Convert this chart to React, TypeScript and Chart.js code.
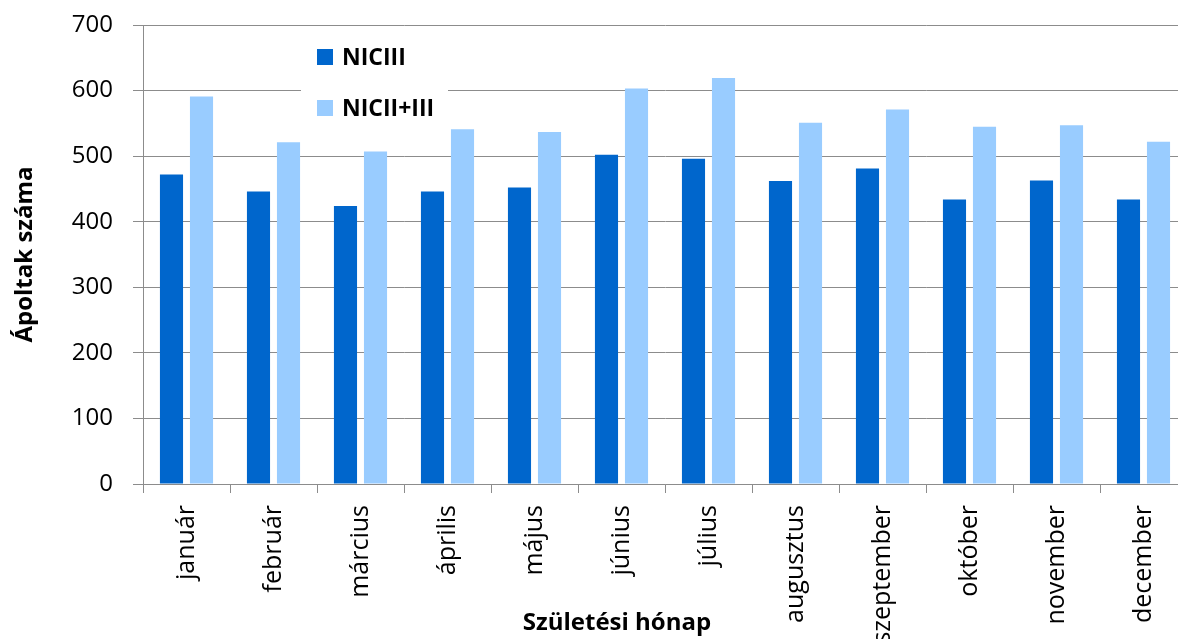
import React, { useEffect, useRef } from "react";
import { Chart, registerables } from "chart.js";

Chart.register(...registerables);

const months = [
  "január", "február", "március", "április", "május", "június",
  "július", "augusztus", "szeptember", "október", "november", "december",
];
const seriesNames = ["NICIII", "NICII+III"];
const nicIII = [472, 446, 424, 446, 452, 502, 496, 462, 481, 434, 463, 434];
const nicIIplusIII = [591, 521, 507, 541, 537, 603, 619, 551, 571, 545, 547, 522];
const yTicks = [0, 100, 200, 300, 400, 500, 600, 700];

const DARK = "#0066CC";
const LIGHT = "#99CCFF";
const GRID = "#8c8c8c";
const FONT = "'Open Sans', sans-serif";

const legendPlugin = {
  id: "insideLegend",
  afterDraw(chart: any) {
    const ctx = chart.ctx;
    ctx.save();
    ctx.fillStyle = "#ffffff";
    ctx.fillRect(301, 33, 147, 95);
    ctx.font = `bold 23px ${FONT}`;
    ctx.textBaseline = "middle";
    ctx.textAlign = "left";
    chart.data.datasets.forEach((ds: any, i: number) => {
      const cy = 57 + i * 51;
      ctx.fillStyle = ds.backgroundColor;
      ctx.fillRect(317, cy - 8, 16, 16);
      ctx.fillStyle = "#000";
      ctx.fillText(ds.label, 342, cy + 1);
    });
    ctx.restore();
  },
};

const xTitlePlugin = {
  id: "xTitle",
  afterDraw(chart: any) {
    const ctx = chart.ctx;
    ctx.save();
    ctx.font = `bold 24px ${FONT}`;
    ctx.fillStyle = "#000";
    ctx.textAlign = "center";
    ctx.textBaseline = "middle";
    ctx.fillText("Születési hónap", 617, 623);
    ctx.restore();
  },
};

export default function App() {
  const ref = useRef<HTMLCanvasElement | null>(null);

  useEffect(() => {
    document.body.style.margin = "0";
    const canvas = ref.current!;
    const chart = new Chart(canvas, {
      type: "bar",
      data: {
        labels: months,
        datasets: [
          { label: seriesNames[0], data: nicIII, backgroundColor: DARK, borderWidth: 0 },
          { label: seriesNames[1], data: nicIIplusIII, backgroundColor: LIGHT, borderWidth: 0 },
        ],
      },
      options: {
        responsive: false,
        animation: false,
        maintainAspectRatio: false,
        layout: { padding: { top: 25, left: 0, right: 0, bottom: 0 } },
        datasets: { bar: { categoryPercentage: 0.69, barPercentage: 0.77 } },
        plugins: {
          legend: { display: false },
          tooltip: { enabled: false },
        },
        scales: {
          x: {
            grid: {
              display: true,
              drawOnChartArea: false,
              drawTicks: true,
              tickLength: 9,
              color: GRID,
              offset: true,
            },
            border: { display: true, color: GRID },
            ticks: {
              autoSkip: false,
              minRotation: 90,
              maxRotation: 90,
              padding: 12,
              color: "#000",
              font: { family: FONT, size: 25 },
            },
            afterFit(scale: any) {
              scale.height = 155;
              scale.paddingLeft = 0;
              scale.paddingRight = 0;
              scale.paddingTop = 0;
              scale.paddingBottom = 0;
            },
          },
          y: {
            min: yTicks[0],
            max: yTicks[yTicks.length - 1],
            afterBuildTicks(scale: any) {
              scale.ticks = yTicks.map((v) => ({ value: v }));
            },
            grid: { color: GRID, tickLength: 10, drawTicks: true },
            border: { display: true, color: GRID },
            ticks: {
              padding: 20,
              color: "#000",
              font: { family: FONT, size: 24 },
            },
            title: {
              display: true,
              text: "Ápoltak száma",
              color: "#000",
              font: { family: FONT, size: 24, weight: "bold" },
              padding: { top: 11, bottom: 0 },
            },
            afterFit(scale: any) {
              scale.width = 143;
              scale.paddingTop = 0;
              scale.paddingBottom = 0;
              scale.paddingLeft = 0;
              scale.paddingRight = 0;
            },
          },
        },
      },
      plugins: [legendPlugin, xTitlePlugin],
    });
    return () => chart.destroy();
  }, []);

  return (
    <div
      style={{
        position: "fixed",
        left: 0,
        top: 0,
        width: 1178,
        height: 639,
        overflow: "hidden",
        background: "#fff",
      }}
    >
      <canvas
        ref={ref}
        width={1187}
        height={639}
        style={{ width: 1187, height: 639, display: "block" }}
      />
    </div>
  );
}
